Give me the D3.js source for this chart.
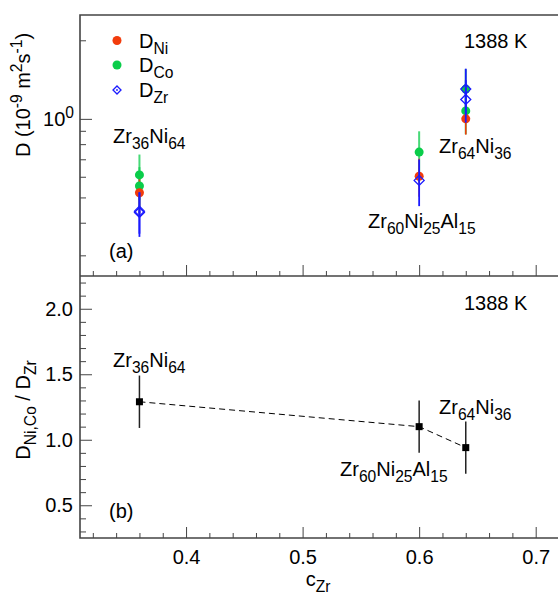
<!DOCTYPE html>
<html>
<head>
<meta charset="utf-8">
<script src="https://cdn.jsdelivr.net/npm/d3@7"></script>
<style>
  body { margin: 0; background: #fff; }
  text { font-family: "Liberation Sans", Arial, Helvetica, sans-serif; fill: #000; }
</style>
</head>
<body>
<div id="chart"></div>
<script>
var svgWidth = 558;
var svgHeight = 595;

// top panel (a): diffusion coefficients, 1e-9 m^2/s
var niX = [0.36, 0.60, 0.64];
var niD = [0.521, 0.603, 1.00];
var niErr = [0.09, 0.10, 0.13];

var coX = [0.36, 0.36, 0.60, 0.64, 0.64];
var coD = [0.610, 0.553, 0.746, 1.30, 1.073];
var coErr = [0.12, 0.10, 0.15, 0.25, 0.20];

var zrX = [0.36, 0.36, 0.60, 0.64, 0.64];
var zrD = [0.438, 0.443, 0.581, 1.30, 1.187];
var zrErr = [0.085, 0.08, 0.118, 0.257, 0.22];

// bottom panel (b): ratio D(Ni,Co) / D(Zr)
var ratioX = [0.36, 0.60, 0.64];
var ratio = [1.29, 1.10, 0.94];
var ratioErr = [0.20, 0.20, 0.20];

var xMajor = [0.4, 0.5, 0.6, 0.7];
var yMajorB = [0.5, 1.0, 1.5, 2.0];
var yLogMinor = [0.3, 0.4, 0.5, 0.6, 0.7, 0.8, 0.9, 2];

var frame = { left: 80, right: 559, top: 15, mid: 276, bottom: 538 };
var frameColor = "#444";

var svg = d3.select("#chart")
    .append("svg")
    .attr("width", svgWidth)
    .attr("height", svgHeight);

var xScale = d3.scaleLinear()
    .domain([0.309, 0.72])
    .range([frame.left, frame.right]);

var yTop = d3.scaleLog()
    .domain([0.25, 2.5])
    .range([frame.mid, frame.top]);

var yBot = d3.scaleLinear()
    .domain([0.25, 2.25])
    .range([frame.bottom, frame.mid]);

var xMinor = d3.range(0.32, 0.721, 0.02).filter(function(v) {
    return !xMajor.some(function(m) { return Math.abs(m - v) < 1e-6; });
});
var yMinorB = d3.range(0.3, 2.25, 0.1).filter(function(v) {
    return !yMajorB.some(function(m) { return Math.abs(m - v) < 1e-6; });
});

// write text made of pieces, some of them sub/superscript
function richText(g, x, y, parts, size, anchor) {
    var t = g.append("text")
        .attr("x", x)
        .attr("y", y)
        .style("font-size", size + "px")
        .attr("text-anchor", anchor || "start");
    var shift = 0;
    parts.forEach(function(p) {
        var s = typeof p === "string" ? null : p[1];
        var txt = typeof p === "string" ? p : p[0];
        var want = s === "sub" ? 0.3 * size : s === "sup" ? -0.4 * size : 0;
        t.append("tspan")
            .attr("dy", want - shift)
            .style("font-size", s ? (size * 0.78) + "px" : size + "px")
            .text(txt);
        shift = want;
    });
    return t;
}

function styleAxis(g) {
    g.select(".domain").remove();
    g.selectAll("line").attr("stroke", frameColor).attr("stroke-width", 1);
    g.selectAll("text").style("font-size", "20px").attr("fill", "#000");
}

// ---------- axes / ticks ----------
// top panel left (log)
svg.append("g")
    .attr("transform", `translate(${frame.left},0)`)
    .call(d3.axisLeft(yTop).tickValues([1]).tickSizeInner(-12).tickSizeOuter(0).tickFormat(""))
    .call(styleAxis);
svg.append("g")
    .attr("transform", `translate(${frame.left},0)`)
    .call(d3.axisLeft(yTop).tickValues(yLogMinor).tickSizeInner(-6).tickSizeOuter(0).tickFormat(""))
    .call(styleAxis);
richText(svg, 74, yTop(1) + 7, ["10", ["0", "sup"]], 20, "end");

// ticks on the shared edge, pointing up into panel (a)
svg.append("g")
    .attr("transform", `translate(0,${frame.mid})`)
    .call(d3.axisBottom(xScale).tickValues(xMajor).tickSizeInner(-11).tickSizeOuter(0).tickFormat(""))
    .call(styleAxis);
svg.append("g")
    .attr("transform", `translate(0,${frame.mid})`)
    .call(d3.axisBottom(xScale).tickValues(xMinor).tickSizeInner(-5).tickSizeOuter(0).tickFormat(""))
    .call(styleAxis);

// bottom panel left
svg.append("g")
    .attr("transform", `translate(${frame.left},0)`)
    .call(d3.axisLeft(yBot).tickValues(yMajorB).tickSizeInner(-12).tickSizeOuter(0).tickPadding(7).tickFormat(d3.format(".1f")))
    .call(styleAxis);
svg.append("g")
    .attr("transform", `translate(${frame.left},0)`)
    .call(d3.axisLeft(yBot).tickValues(yMinorB).tickSizeInner(-6).tickSizeOuter(0).tickFormat(""))
    .call(styleAxis);

// bottom panel x axis
svg.append("g")
    .attr("transform", `translate(0,${frame.bottom})`)
    .call(d3.axisBottom(xScale).tickValues(xMajor).tickSizeInner(-11).tickSizeOuter(0).tickPadding(12).tickFormat(d3.format(".1f")))
    .call(styleAxis);
svg.append("g")
    .attr("transform", `translate(0,${frame.bottom})`)
    .call(d3.axisBottom(xScale).tickValues(xMinor).tickSizeInner(-5).tickSizeOuter(0).tickFormat(""))
    .call(styleAxis);

// frame lines
var fr = svg.append("g").attr("stroke", frameColor).attr("stroke-width", 1.6).attr("fill", "none");
fr.append("path").attr("d", `M${frame.right},${frame.top}H${frame.left}V${frame.bottom}H${frame.right}`);
fr.append("line").attr("x1", frame.left).attr("x2", frame.right).attr("y1", frame.mid).attr("y2", frame.mid);

// ---------- panel (a) ----------
var niColor = "#f23c0c";
var coColor = "#0acd4a";
var zrColor = "#1a1aff";

function seriesBars(g, xs, ds, errs, color, width, op) {
    g.selectAll(null)
        .data(ds)
        .enter()
        .append("line")
        .attr("x1", (d, i) => xScale(xs[i]))
        .attr("x2", (d, i) => xScale(xs[i]))
        .attr("y1", (d, i) => yTop(d + errs[i]))
        .attr("y2", (d, i) => yTop(d - errs[i]))
        .attr("stroke", color)
        .attr("stroke-width", width)
        .attr("opacity", op);
}

function seriesDots(g, xs, ds, color) {
    g.selectAll(null)
        .data(ds)
        .enter()
        .append("circle")
        .attr("cx", (d, i) => xScale(xs[i]))
        .attr("cy", d => yTop(d))
        .attr("r", 4.5)
        .attr("fill", color);
}

function diamond(g, cx, cy, s, color) {
    g.append("path")
        .attr("d", `M${cx},${cy - s}L${cx + s},${cy}L${cx},${cy + s}L${cx - s},${cy}Z`)
        .attr("fill", "none")
        .attr("stroke", color)
        .attr("stroke-width", 1.3);
    g.append("circle").attr("cx", cx).attr("cy", cy).attr("r", 0.9).attr("fill", color);
}

var pa = svg.append("g");
seriesBars(pa, coX, coD, coErr, coColor, 2, 0.75);
seriesBars(pa, niX, niD, niErr, niColor, 1.6, 1);
seriesDots(pa, coX, coD, coColor);
seriesDots(pa, niX, niD, niColor);
seriesBars(pa, zrX, zrD, zrErr, zrColor, 1.8, 1);
zrD.forEach(function(d, i) { diamond(pa, xScale(zrX[i]), yTop(d), 5, zrColor); });

// legend
var legY = [40.5, 65, 90];
pa.append("circle").attr("cx", 117).attr("cy", legY[0]).attr("r", 4.5).attr("fill", niColor);
pa.append("circle").attr("cx", 117).attr("cy", legY[1]).attr("r", 4.5).attr("fill", coColor);
diamond(pa, 117, legY[2], 4, zrColor);
richText(pa, 139, legY[0] + 7, ["D", ["Ni", "sub"]], 20);
richText(pa, 139, legY[1] + 7, ["D", ["Co", "sub"]], 20);
richText(pa, 139, legY[2] + 7, ["D", ["Zr", "sub"]], 20);

richText(pa, 464, 48, ["1388 K"], 20);
richText(pa, 113, 143, ["Zr", ["36", "sub"], "Ni", ["64", "sub"]], 20);
richText(pa, 439, 153, ["Zr", ["64", "sub"], "Ni", ["36", "sub"]], 20);
richText(pa, 368, 228, ["Zr", ["60", "sub"], "Ni", ["25", "sub"], "Al", ["15", "sub"]], 20);
richText(pa, 109, 258, ["(a)"], 20);

// ---------- panel (b) ----------
var pb = svg.append("g");
var ratioLine = d3.line()
    .x((d, i) => xScale(ratioX[i]))
    .y(d => yBot(d));
pb.append("path")
    .attr("d", ratioLine(ratio))
    .attr("fill", "none")
    .attr("stroke", "#000")
    .attr("stroke-width", 1)
    .attr("stroke-dasharray", "6,4");
pb.selectAll(null)
    .data(ratio)
    .enter()
    .append("line")
    .attr("x1", (d, i) => xScale(ratioX[i]))
    .attr("x2", (d, i) => xScale(ratioX[i]))
    .attr("y1", (d, i) => yBot(d + ratioErr[i]))
    .attr("y2", (d, i) => yBot(d - ratioErr[i]))
    .attr("stroke", "#222")
    .attr("stroke-width", 1.5);
pb.selectAll(null)
    .data(ratio)
    .enter()
    .append("rect")
    .attr("x", (d, i) => xScale(ratioX[i]) - 3.5)
    .attr("y", d => yBot(d) - 3.5)
    .attr("width", 7)
    .attr("height", 7)
    .attr("fill", "#000");

richText(pb, 464, 310, ["1388 K"], 20);
richText(pb, 113, 367, ["Zr", ["36", "sub"], "Ni", ["64", "sub"]], 20);
richText(pb, 439, 414, ["Zr", ["64", "sub"], "Ni", ["36", "sub"]], 20);
richText(pb, 340, 476, ["Zr", ["60", "sub"], "Ni", ["25", "sub"], "Al", ["15", "sub"]], 20);
richText(pb, 109, 518, ["(b)"], 20);

// ---------- axis titles ----------
richText(svg, 0, 0, ["D (10", ["-9", "sup"], " m", ["2", "sup"], "s", ["-1", "sup"], ")"], 20, "middle")
    .attr("transform", "translate(30,95) rotate(-90)");
richText(svg, 0, 0, ["D", ["Ni,Co", "sub"], " / D", ["Zr", "sub"]], 20, "middle")
    .attr("transform", "translate(30,410) rotate(-90)");
richText(svg, 318, 586, ["c", ["Zr", "sub"]], 20, "middle");
</script>
</body>
</html>
